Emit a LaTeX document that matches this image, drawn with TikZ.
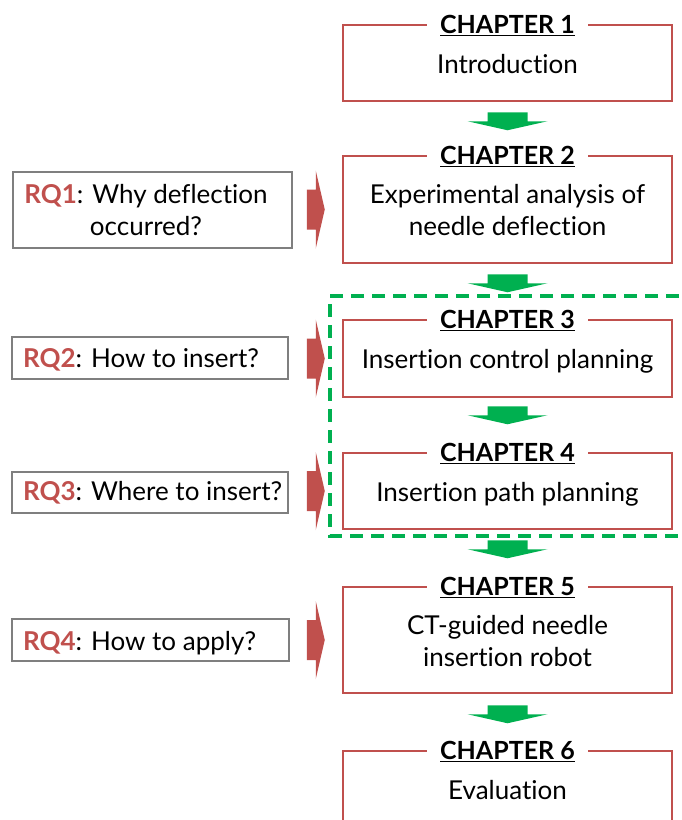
\documentclass[tikz,border=0pt]{standalone}
\usepackage{fontspec}
\setmainfont{Lato}[Ligatures={NoCommon,NoContextual}]
\definecolor{chred}{HTML}{C0504D}
\definecolor{ggreen}{HTML}{00B050}
\definecolor{rqgray}{HTML}{7F7F7F}
\begin{document}
\begin{tikzpicture}[x=1pt,y=-1pt,
  chbox/.style={draw=chred, line width=2.5pt, minimum width=329pt, inner sep=0pt},
  chtitle/.style={fill=white, font=\fontsize{25}{30}\selectfont\bfseries, inner xsep=13pt, inner ysep=2pt, anchor=base, yshift=-10pt},
  bodytxt/.style={font=\fontsize{26}{32}\selectfont, inner sep=0pt, anchor=base},
  rqbox/.style={draw=rqgray, line width=2.5pt, inner sep=0pt},
  gdash/.style={draw=ggreen, line width=3.5pt, dash pattern=on 13pt off 8pt},
  garr/.pic={\fill[ggreen] (-20,0) -- (20,0) -- (20,9) -- (40,9) -- (0,18) -- (-40,9) -- (-20,9) -- cycle;},
  rarr/.pic={\fill[chred] (0,-20) -- (9,-20) -- (9,-39) -- (18,0) -- (9,39) -- (9,20) -- (0,20) -- cycle;}
]
\useasboundingbox (0,0) rectangle (681,820);
\clip (0,0) rectangle (681,820);

% dashed frame around chapters 3 and 4
\draw[gdash] (700,296) -- (330,296) -- (330,536) -- (700,536);

% chapter boxes
\node[chbox, minimum height=76pt]  (c1) at (507.5,63)    {};
\node[chbox, minimum height=107pt] (c2) at (507.5,209.5) {};
\node[chbox, minimum height=77pt]  (c3) at (507.5,358.5) {};
\node[chbox, minimum height=76pt]  (c4) at (507.5,491)   {};
\node[chbox, minimum height=106pt] (c5) at (507.5,640)   {};
\node[chbox, minimum height=76pt]  (c6) at (507.5,789)   {};

% titles
\node[chtitle] (t1) at (c1.north) {\underline{CHAPTER 1}};
\node[chtitle] (t2) at (c2.north) {\underline{CHAPTER 2}};
\node[chtitle] (t3) at (c3.north) {\underline{CHAPTER 3}};
\node[chtitle] (t4) at (c4.north) {\underline{CHAPTER 4}};
\node[chtitle] (t5) at (c5.north) {\underline{CHAPTER 5}};
\node[chtitle] (t6) at (c6.north) {\underline{CHAPTER 6}};

% chapter texts
\node[bodytxt, yshift=-10pt] (b1) at (c1.center) {Introduction};
\node[bodytxt, yshift=6pt]   (b2a) at (c2.center) {Experimental analysis of};
\node[bodytxt, yshift=-26pt] (b2b) at (c2.center) {needle deflection};
\node[bodytxt, yshift=-10pt] (b3) at (c3.center) {Insertion control planning};
\node[bodytxt, yshift=-10pt] (b4) at (c4.center) {Insertion path planning};
\node[bodytxt, yshift=6pt]   (b5a) at (c5.center) {CT-guided needle};
\node[bodytxt, yshift=-26pt] (b5b) at (c5.center) {insertion robot};
\node[bodytxt, yshift=-10pt] (b6) at (c6.center) {Evaluation};

% green arrows between chapters
\pic at ([yshift=-10pt]c1.south) {garr};
\pic at ([yshift=-10pt]c2.south) {garr};
\pic at ([yshift=-8pt]c3.south) {garr};
\pic at ([yshift=-10pt]c4.south) {garr};
\pic at ([yshift=-11pt]c5.south) {garr};

% research question boxes
\node[rqbox, minimum width=279pt, minimum height=76pt] (rq1) at (152.5,210) {};
\node[rqbox, minimum width=276pt, minimum height=42pt] (rq2) at (150,358)   {};
\node[rqbox, minimum width=276pt, minimum height=41pt] (rq3) at (150,492.5) {};
\node[rqbox, minimum width=277pt, minimum height=42pt] (rq4) at (150.5,640) {};

\node[bodytxt] (q1a) at (146,203) {\textcolor{chred}{\bfseries RQ1}: Why deflection};
\node[bodytxt] (q1b) at (146,235) {occurred?};
\node[bodytxt, anchor=base west] (q2) at (23,367) {\textcolor{chred}{\bfseries RQ2}: How to insert?};
\node[bodytxt, anchor=base west] (q3) at (23,500) {\textcolor{chred}{\bfseries RQ3}: Where to insert?};
\node[bodytxt, anchor=base west] (q4) at (23,650) {\textcolor{chred}{\bfseries RQ4}: How to apply?};

% red arrows from questions to chapters
\pic at ([xshift=-35pt]c2.west) {rarr};
\pic at ([xshift=-35pt]c3.west) {rarr};
\pic at ([xshift=-35pt]c4.west) {rarr};
\pic at ([xshift=-35pt]c5.west) {rarr};
\end{tikzpicture}
\end{document}
